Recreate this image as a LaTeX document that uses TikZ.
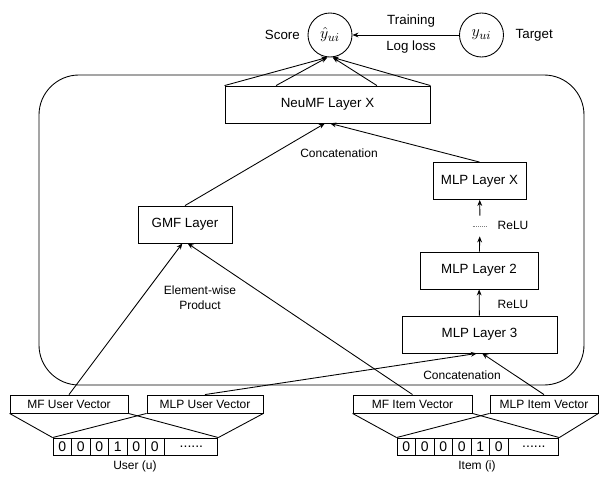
\documentclass[tikz,border=0pt]{standalone}
\usepackage{fontspec}
\setmainfont{Liberation Sans}
\usetikzlibrary{arrows.meta,positioning,calc}

\begin{document}
\begin{tikzpicture}[
    x=0.75pt, y=-0.75pt,
    line width=0.65pt,
    box/.style={rectangle, draw, minimum height=27.75pt, inner sep=0pt, font=\fontsize{10}{12}\selectfont},
    vec/.style={rectangle, draw, minimum height=13.5pt, inner sep=0pt, font=\fontsize{9}{11}\selectfont},
    cell/.style={rectangle, draw, minimum width=13.9pt, minimum height=12.75pt, inner sep=0pt, font=\fontsize{10.5}{12}\selectfont},
    neuron/.style={circle, draw, minimum size=33pt, inner sep=0pt, font=\fontsize{13}{15}\selectfont},
    arrow/.style={-{Stealth[length=4.5pt, width=3.6pt]}},
    note/.style={font=\fontsize{9}{11}\selectfont, inner sep=1pt, align=center},
    tag/.style={font=\fontsize{10}{12}\selectfont, inner sep=0pt},
    gapnode/.style={minimum width=10.5pt, minimum height=15pt, inner sep=0pt}
]
\useasboundingbox (0,0) rectangle (600,477);

% Nodes
\node[draw, rounded corners=30pt, minimum width=408.75pt, minimum height=232.5pt] (frame) at (311.5,230) {};
\node[neuron] (yhat) at (330,35) {$\hat{y}_{ui}$};
\node[neuron] (y) at (481.5,35) {$y_{ui}$};
\node[tag, left=5.5pt of yhat] (score) {Score};
\node[tag, right=8.5pt of y] (target) {Target};

\node[box, minimum width=153.75pt] (neumf) at (327.5,104.5) {NeuMF Layer X};
\node[box, minimum width=70.5pt] (gmf) at (185,224.5) {GMF Layer};
\node[box, minimum width=69.75pt] (mlpx) at (479.5,181) {MLP Layer X};
\node[gapnode] (gap) at (480,226) {};
\node[box, minimum width=88.5pt] (mlp2) at (479,270.5) {MLP Layer 2};
\node[box, minimum width=116.25pt] (mlp3) at (479.5,334.5) {MLP Layer 3};

\node[vec, minimum width=88.5pt] (mfu) at (69,404) {MF User Vector};
\node[vec, minimum width=87pt] (mlpu) at (205,404) {MLP User Vector};
\node[vec, minimum width=89.25pt] (mfi) at (412.5,404) {MF Item Vector};
\node[vec, minimum width=81pt] (mlpi) at (544,404) {MLP Item Vector};

% one-hot inputs
\foreach \bit [count=\i] in {0,0,0,1,0,0}
  \node[cell] (u\i) at ({53+18.5*(\i-0.5)},446.5) {\bit};
\node[cell, minimum width=39.75pt, right=0pt of u6] (u7) {......};
\foreach \bit [count=\i] in {0,0,0,0,1,0}
  \node[cell] (i\i) at ({397+18.5*(\i-0.5)},446.5) {\bit};
\node[cell, minimum width=37.5pt, right=0pt of i6] (i7) {......};
\node[note] (user) at (135,466) {User (u)};
\node[note] (item) at (477,466) {Item (i)};

% Labels
\node[note] (concat) at (339,153) {Concatenation};
\node[note] (prod) at (200,298) {Element-wise\\Product};
\node[note] (concat2) at (462,375) {Concatenation};
\node[note] (relu1) at (513,304) {ReLU};
\node[note] (relu2) at (513,225) {ReLU};

% Arrows
\draw[arrow] (y) -- (yhat)
  node[tag, pos=0.45, above=5.3pt] (train) {Training}
  node[tag, pos=0.45, below=3.8pt] (loss) {Log loss};
\draw[arrow] (neumf.north west) -- ([xshift=-2pt]yhat.south);
\draw[arrow] ($(neumf.north west)!0.25!(neumf.north east)$) -- ([xshift=-2pt]yhat.south);
\draw[arrow] ($(neumf.north west)!0.74!(neumf.north east)$) -- ([xshift=2pt]yhat.south);
\draw[arrow] (neumf.north east) -- ([xshift=2pt]yhat.south);
\draw[arrow] (gmf.north) -- ([xshift=-2pt]neumf.south);
\draw[arrow] (mlpx.north) -- ([xshift=2pt]neumf.south);
\draw[arrow] (mlp3) -- (mlp2);
\draw[arrow] (mlp2) -- (gap);
\draw[arrow] (gap) -- (mlpx);
\draw[gray, densely dotted, line width=0.4pt] (gap.west) -- (gap.east);
\draw[arrow] (mfu.north) -- ([xshift=-2pt]gmf.south);
\draw[arrow] (mfi.north) -- ([xshift=2pt]gmf.south);
\draw[arrow] (mlpu.north) -- ([xshift=-2pt]mlp3.south);
\draw[arrow] (mlpi.north) -- ([xshift=2pt]mlp3.south);

% Embedding lookups
\draw (mfu.south west) -- (u1.north west) (mfu.south east) -- (u7.north east);
\draw (mlpu.south west) -- (u1.north west) (mlpu.south east) -- (u7.north east);
\draw (mfi.south west) -- (i1.north west) (mfi.south east) -- (i7.north east);
\draw (mlpi.south west) -- (i1.north west) (mlpi.south east) -- (i7.north east);

\end{tikzpicture}
\end{document}
